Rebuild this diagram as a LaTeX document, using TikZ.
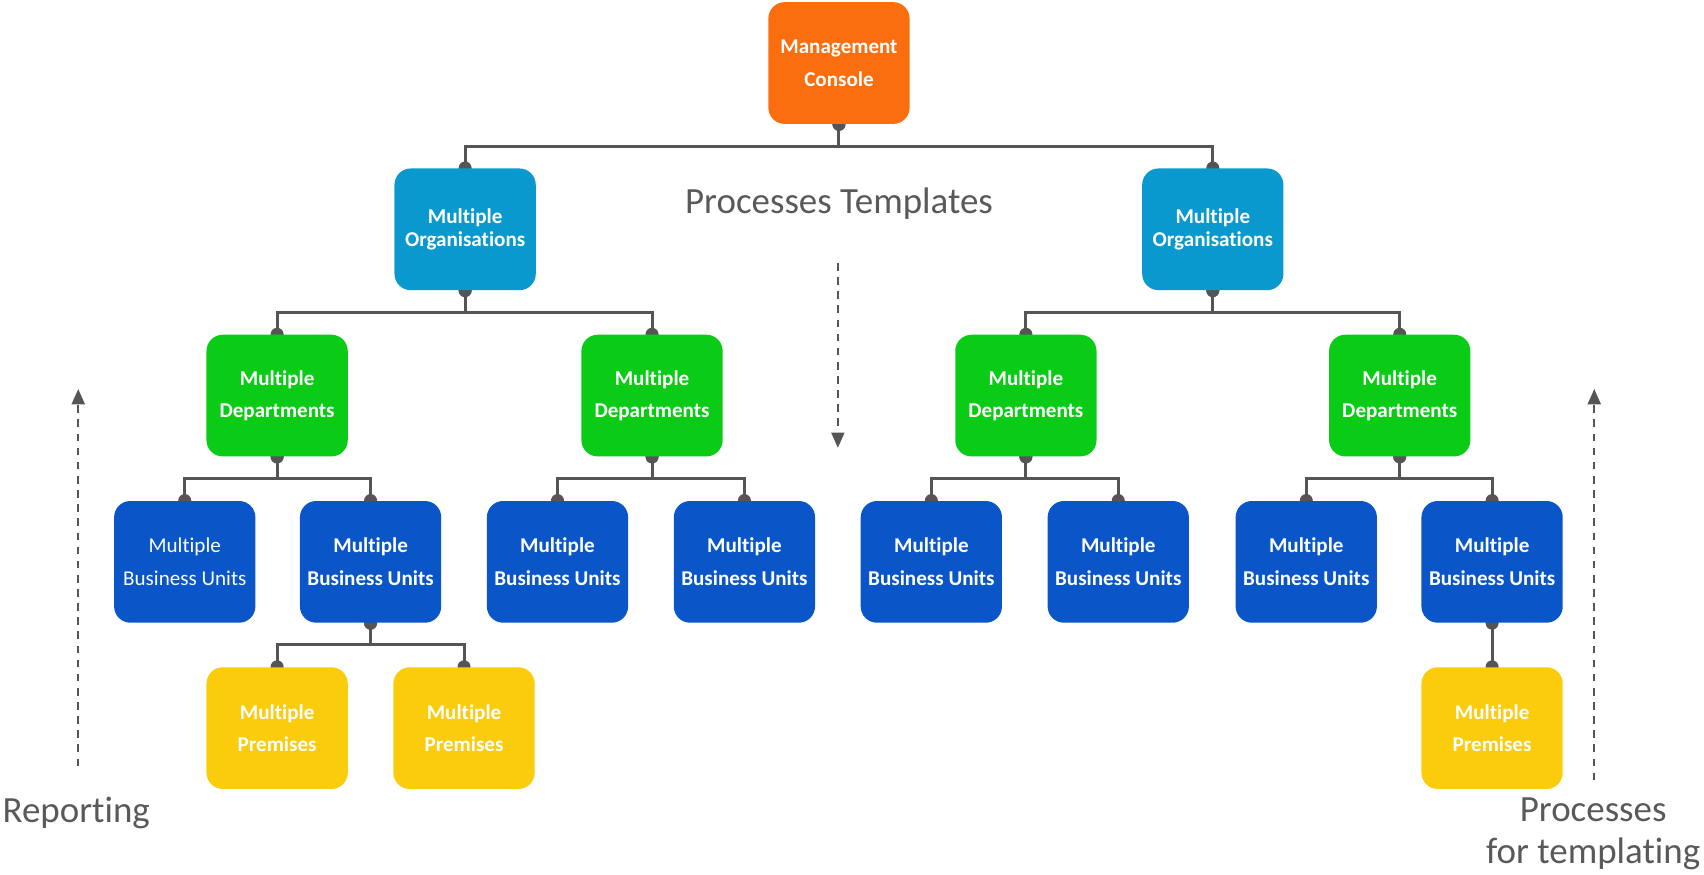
\documentclass[tikz,border=0pt]{standalone}
\usepackage{fontspec}
\setmainfont{Carlito}[Ligatures=NoCommon]
\usetikzlibrary{arrows.meta,backgrounds,calc}
\definecolor{cOrange}{RGB}{250,110,15}
\definecolor{cOrg}{RGB}{10,153,206}
\definecolor{cDept}{RGB}{10,204,22}
\definecolor{cBU}{RGB}{10,85,200}
\definecolor{cPrem}{RGB}{250,204,12}
\definecolor{cLine}{RGB}{85,85,85}
\definecolor{cText}{RGB}{89,89,89}
\tikzset{
  box/.style={rounded corners=7.5pt, minimum width=65pt, minimum height=56pt, inner sep=0pt,
    align=center, text=white, font=\fontsize{9.7}{15}\selectfont\bfseries},
  mcbox/.style={box, fill=cOrange},
  orgbox/.style={box, fill=cOrg, font=\fontsize{9.7}{10.5}\selectfont\bfseries},
  deptbox/.style={box, fill=cDept},
  bubox/.style={box, fill=cBU},
  prembox/.style={box, fill=cPrem},
  conn/.style={draw=cLine, line width=1.4pt},
  knob/.style={fill=cLine},
  flowarrow/.style={draw=cLine, line width=0.9pt, dash pattern=on 3.5pt off 3pt,
    -{Triangle[width=6pt,length=7pt]}},
  lbl/.style={text=cText, font=\fontsize{17}{19.5}\selectfont, inner sep=0pt}
}
\begin{document}
\begin{tikzpicture}[x=0.5pt,y=-0.5pt]
\useasboundingbox (0,0) rectangle (1568,805);
% nodes
\node[mcbox] (mc) at (772,58) {Management\\Console};
\node[orgbox] (o1) at (428,211) {Multiple\\Organisations};
\node[orgbox] (o2) at (1116,211) {Multiple\\Organisations};
\node[deptbox] (d1) at (255,364) {Multiple\\Departments};
\node[deptbox] (d2) at (600,364) {Multiple\\Departments};
\node[deptbox] (d3) at (944,364) {Multiple\\Departments};
\node[deptbox] (d4) at (1288,364) {Multiple\\Departments};
\node[bubox, font=\fontsize{9.7}{15}\selectfont] (b1) at (170,517) {Multiple\\Business Units};
\node[bubox] (b2) at (341,517) {Multiple\\Business Units};
\node[bubox] (b3) at (513,517) {Multiple\\Business Units};
\node[bubox] (b4) at (685,517) {Multiple\\Business Units};
\node[bubox] (b5) at (857,517) {Multiple\\Business Units};
\node[bubox] (b6) at (1029,517) {Multiple\\Business Units};
\node[bubox] (b7) at (1202,517) {Multiple\\Business Units};
\node[bubox] (b8) at (1373,517) {Multiple\\Business Units};
\node[prembox] (p1) at (255,670) {Multiple\\Premises};
\node[prembox] (p2) at (427,670) {Multiple\\Premises};
\node[prembox] (p3) at (1373,670) {Multiple\\Premises};
% labels
\node[lbl] (tpl) at (772,187) {Processes Templates};
\node[lbl, anchor=west] (rep) at (2,748) {Reporting};
\node[lbl, align=center] (pft) at (1466,767) {Processes\\for templating};
% connectors
\begin{scope}[on background layer]
\foreach \p/\c in {mc/o1,mc/o2,o1/d1,o1/d2,o2/d3,o2/d4,d1/b1,d1/b2,d2/b3,d2/b4,d3/b5,d3/b6,d4/b7,d4/b8,b2/p1,b2/p2,b8/p3}{
  \draw[conn] (\p.south) -- ++(0,20) -| (\c.north);
  \fill[knob] (\p.south) circle (6);
  \fill[knob] (\c.north) circle (6);
}
\end{scope}
% flow arrows
\coordinate (ta) at (771,242);
\coordinate (tb) at (771,412);
\coordinate (ra) at (72,705);
\coordinate (rb) at (72,358);
\coordinate (qa) at (1467,718);
\coordinate (qb) at (1467,358);
\draw[flowarrow] (ta) -- (tb);
\draw[flowarrow] (ra) -- (rb);
\draw[flowarrow] (qa) -- (qb);
\end{tikzpicture}
\end{document}
